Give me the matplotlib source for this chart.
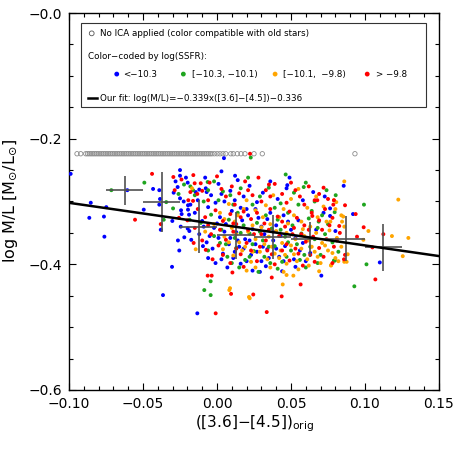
import numpy as np
import matplotlib
matplotlib.use('Agg')
import matplotlib.pyplot as plt
from matplotlib.patches import Rectangle
from matplotlib.ticker import MultipleLocator, FixedLocator, FixedFormatter

# data
gray_x = [-0.0946, -0.0921,
          -0.0887, -0.0875, -0.0863, -0.0851, -0.0839, -0.0827, -0.0815, -0.0803, -0.0791, -0.0779,
          -0.0767, -0.0755, -0.0743, -0.0731, -0.0719, -0.0707, -0.0695, -0.0683, -0.0671, -0.0659,
          -0.0647, -0.0635, -0.0623, -0.0611, -0.0599, -0.0587, -0.0575, -0.0563, -0.0551, -0.0539,
          -0.0527, -0.0515, -0.0503, -0.0491, -0.0479, -0.0467, -0.0455, -0.0443, -0.0431, -0.0419,
          -0.0407, -0.0395, -0.0383, -0.0371, -0.0359, -0.0347, -0.0335, -0.0323, -0.0311, -0.0299,
          -0.0287, -0.0275, -0.0263, -0.0251, -0.0239, -0.0227, -0.0215, -0.0203, -0.0191, -0.0179,
          -0.0167, -0.0155, -0.0143, -0.0131, -0.0119, -0.0107, -0.0095, -0.0083, -0.0071, -0.0059,
          -0.0047, -0.0035, -0.0018, 0.0001, 0.0020, 0.0040, 0.0059,
          0.0093, 0.0110, 0.0137, 0.0162, 0.0189, 0.0250, 0.0306, 0.0932]
gray_y = [-0.224] * len(gray_x)

blue_x = [-0.0989, -0.0853, -0.0748, -0.0863, -0.0764, -0.0761, -0.0304, -0.0365, -0.0133, -0.0606,
          -0.0495, -0.0432, -0.0390, -0.0385, -0.0390, -0.0380, -0.0250, -0.0250, -0.0266, -0.0293,
          -0.0198, -0.0225, -0.0196, -0.0243, -0.0239, -0.0196, -0.0189, -0.0302, -0.0245, -0.0198,
          -0.0187, -0.0221, -0.0264, -0.0255, -0.0174, -0.0095, -0.0144, -0.0076, 0.0047, 0.0122,
          0.0475, 0.0705, 0.1100, 0.0856, 0.0919, 0.0800, 0.0728, 0.0764, 0.0764,
          -0.028, -0.021, -0.012, -0.008, -0.004, 0.001, 0.005, 0.009, 0.014, 0.018, 0.022, 0.027,
          0.031, 0.036, 0.041, 0.047, -0.015, -0.010, -0.006, -0.002, 0.002, 0.006, 0.010, 0.013,
          0.017, 0.020, 0.024, 0.028, 0.032, 0.036, 0.040, 0.045, 0.050, 0.055, -0.012, -0.007,
          -0.003, 0.001, 0.004, 0.008, 0.011, 0.015, 0.019, 0.023, 0.026, 0.030, 0.034, 0.038,
          0.042, 0.046, 0.052, 0.058, 0.063, -0.001, 0.007, 0.016, 0.024, 0.033, 0.044, 0.053,
          0.060, 0.067, 0.072, 0.058, 0.065, 0.049, 0.003,
          -0.025, -0.018, -0.013, -0.007, -0.001, 0.003, 0.012, 0.016, 0.021, 0.026, 0.030, 0.034,
          0.038, 0.043, 0.048, 0.053, -0.009, -0.005, 0.000, 0.005, 0.009, 0.014, 0.018, 0.022,
          0.027, 0.031, 0.035, 0.040, 0.045, 0.056, 0.003, 0.012, -0.006, 0.020, 0.029]
blue_y = [-0.256, -0.302, -0.309, -0.326, -0.324, -0.356, -0.404, -0.449, -0.478, -0.282,
          -0.313, -0.280, -0.282, -0.296, -0.305, -0.345, -0.250, -0.259, -0.277, -0.286,
          -0.270, -0.300, -0.306, -0.314, -0.320, -0.313, -0.321, -0.331, -0.340, -0.343,
          -0.347, -0.357, -0.362, -0.378, -0.361, -0.371, -0.285, -0.279, -0.231, -0.259,
          -0.274, -0.418, -0.397, -0.275, -0.320, -0.347, -0.292, -0.311, -0.323,
          -0.268, -0.262, -0.281, -0.262, -0.290, -0.272, -0.300, -0.283, -0.266, -0.292, -0.275, -0.301,
          -0.286, -0.268, -0.296, -0.279, -0.318, -0.331, -0.309, -0.342, -0.325, -0.336, -0.315, -0.349,
          -0.330, -0.312, -0.344, -0.326, -0.352, -0.318, -0.338, -0.322, -0.345, -0.330, -0.352, -0.365,
          -0.375, -0.358, -0.383, -0.368, -0.390, -0.372, -0.360, -0.385, -0.368, -0.395, -0.376, -0.362,
          -0.388, -0.371, -0.392, -0.366, -0.382, -0.398, -0.405, -0.399, -0.410, -0.403, -0.411, -0.404,
          -0.395, -0.345, -0.318, -0.298, -0.285, -0.262, -0.252,
          -0.295, -0.305, -0.298, -0.285, -0.302, -0.288, -0.298, -0.310, -0.322, -0.312, -0.340, -0.328,
          -0.348, -0.355, -0.332, -0.358, -0.340, -0.355, -0.335, -0.348, -0.358, -0.362, -0.375, -0.362,
          -0.380, -0.372, -0.390, -0.375, -0.395, -0.378, -0.392, -0.380, -0.390, -0.395, -0.412]

green_x = [-0.026, -0.018, -0.009, -0.002, 0.004, 0.011, 0.016, 0.021, 0.029, 0.035, 0.043, 0.052,
           0.060, 0.066, 0.074, -0.011, -0.004, 0.003, 0.008, 0.012, 0.018, 0.022, 0.027, 0.031,
           0.037, 0.041, 0.046, 0.051, 0.057, 0.062, 0.068, 0.075, -0.006, 0.002, 0.007, 0.013,
           0.019, 0.025, 0.032, 0.039, 0.044, 0.050, 0.056, 0.063, 0.070, 0.078, 0.015, 0.028,
           0.041, 0.060, 0.079,
           -0.0714, -0.0491, -0.0343, -0.0360, -0.0223, -0.0297, -0.0185, -0.0162, -0.0063, 0.0228,
           -0.0043, -0.0086, -0.0043, 0.0464, 0.0586, 0.0687, 0.0802, 0.0795, 0.0797, 0.0993,
           0.1010, 0.0928,
           -0.015, -0.006, 0.001, 0.009, 0.014, 0.024, 0.033, 0.039, 0.048, 0.055, 0.064, 0.071,
           -0.002, 0.006, 0.016, 0.024, 0.029, 0.035, 0.043, 0.048, 0.054, 0.059, 0.066, 0.073,
           0.010, 0.022, 0.036, 0.047, 0.068, 0.082]
green_y = [-0.288, -0.276, -0.300, -0.268, -0.284, -0.305, -0.279, -0.262, -0.292, -0.278, -0.303, -0.286,
           -0.270, -0.300, -0.282, -0.334, -0.321, -0.345, -0.329, -0.358, -0.338, -0.351, -0.334, -0.362,
           -0.343, -0.329, -0.356, -0.338, -0.351, -0.327, -0.342, -0.336, -0.378, -0.366, -0.388, -0.374,
           -0.393, -0.379, -0.388, -0.371, -0.396, -0.378, -0.393, -0.372, -0.385, -0.365, -0.405, -0.412,
           -0.407, -0.405, -0.394,
           -0.282, -0.270, -0.301, -0.329, -0.273, -0.311, -0.329, -0.282, -0.269, -0.230,
           -0.427, -0.441, -0.449, -0.257, -0.277, -0.332, -0.290, -0.317, -0.394, -0.305,
           -0.400, -0.435,
           -0.290, -0.282, -0.298, -0.290, -0.318, -0.305, -0.322, -0.310, -0.318, -0.305, -0.315, -0.322,
           -0.355, -0.368, -0.350, -0.368, -0.348, -0.372, -0.345, -0.365, -0.368, -0.385, -0.360, -0.352,
           -0.398, -0.388, -0.398, -0.388, -0.398, -0.380]

orange_x = [0.002, 0.008, 0.014, 0.020, 0.026, 0.033, 0.038, 0.045, 0.050, 0.055, 0.061, 0.067,
            0.072, 0.079, 0.084, -0.008, -0.002, 0.005, 0.010, 0.015, 0.021, 0.026, 0.030, 0.035,
            0.040, 0.044, 0.048, 0.053, 0.058, 0.062, 0.067, 0.071, 0.076, 0.081, 0.086, 0.004,
            0.011, 0.017, 0.023, 0.029, 0.034, 0.039, 0.043, 0.047, 0.052, 0.057, 0.061, 0.066,
            0.070, 0.075, 0.080, 0.084, 0.020, 0.036, 0.055, 0.069, 0.077,
            -0.0169, -0.0144, 0.0088, 0.0083, 0.0216, 0.0221, 0.0444, 0.0470, 0.0516, 0.0860,
            0.1225, 0.1023, 0.1182, 0.1293, 0.1255, 0.0989, 0.0853, 0.0845, 0.0876, 0.0860,
            0.0883, 0.0772, 0.0806, 0.0766,
            0.005, 0.012, 0.018, 0.024, 0.031, 0.036, 0.042, 0.047, 0.052, 0.057, 0.063, 0.068,
            0.074, 0.080, 0.008, 0.013, 0.019, 0.024, 0.032, 0.037, 0.042, 0.046, 0.050, 0.054,
            0.059, 0.064, 0.068, 0.073, 0.078, 0.082, 0.026, 0.045, 0.062]
orange_y = [-0.318, -0.304, -0.322, -0.298, -0.314, -0.306, -0.290, -0.312, -0.296, -0.280, -0.310, -0.292,
            -0.308, -0.298, -0.322, -0.348, -0.336, -0.356, -0.342, -0.365, -0.348, -0.360, -0.341, -0.356,
            -0.347, -0.366, -0.335, -0.360, -0.344, -0.362, -0.350, -0.366, -0.346, -0.358, -0.340, -0.376,
            -0.386, -0.378, -0.396, -0.380, -0.392, -0.383, -0.378, -0.399, -0.384, -0.375, -0.392, -0.380,
            -0.398, -0.378, -0.390, -0.372, -0.410, -0.405, -0.408, -0.411, -0.402,
            -0.279, -0.376, -0.438, -0.441, -0.452, -0.454, -0.432, -0.417, -0.418, -0.268,
            -0.297, -0.347, -0.355, -0.358, -0.387, -0.361, -0.324, -0.332, -0.396, -0.396,
            -0.384, -0.401, -0.301, -0.332,
            -0.328, -0.332, -0.312, -0.338, -0.325, -0.336, -0.325, -0.350, -0.322, -0.332, -0.340, -0.325,
            -0.332, -0.312, -0.365, -0.352, -0.372, -0.380, -0.368, -0.372, -0.390, -0.385, -0.370, -0.395,
            -0.355, -0.372, -0.388, -0.370, -0.382, -0.395, -0.405, -0.412, -0.402]

red_x = [-0.024, -0.016, -0.010, -0.005, 0.000, 0.006, 0.010, 0.015, 0.019, 0.024, 0.028, 0.033,
         0.039, 0.044, 0.050, 0.056, 0.062, 0.069, 0.075, -0.020, -0.013, -0.008, -0.001, 0.004,
         0.009, 0.013, 0.018, 0.023, 0.027, 0.032, 0.036, 0.041, 0.046, 0.049, 0.054, 0.059,
         0.064, 0.069, 0.073, 0.078, -0.010, -0.004, 0.001, 0.006, 0.011, 0.016, 0.020, 0.025,
         0.029, 0.033, 0.037, 0.042, 0.047, 0.051, 0.055, 0.060, 0.065, 0.069, 0.074, 0.079,
         0.083, -0.003, 0.009, 0.018, 0.027, 0.039, 0.049, 0.058, 0.066,
         -0.0439, -0.0554, -0.0380, -0.0295, -0.0286, -0.0194, -0.0257, -0.0158, -0.0076, -0.0151,
         -0.0110, -0.0133, -0.0162, 0.0223, -0.0063, -0.0036, -0.0009, 0.0095, 0.0104, 0.0245,
         0.0336, 0.0437, 0.0370, 0.0565, 0.0351, 0.0678, 0.0991, 0.1124, 0.1070, 0.1050,
         0.0946, 0.0937, 0.0865, 0.0826, 0.0858, 0.0865, 0.0790, 0.0786, 0.0644,
         -0.018, -0.006, 0.003, 0.012, 0.021, 0.030, 0.036, 0.047, 0.053, 0.059, 0.066, 0.072,
         -0.015, -0.006, 0.002, 0.011, 0.016, 0.021, 0.030, 0.035, 0.044, 0.052, 0.057, 0.062,
         0.071, 0.076, 0.081, 0.004, 0.013, 0.023, 0.034, 0.044, 0.053, 0.063, 0.072, 0.078]
red_y = [-0.265, -0.258, -0.283, -0.270, -0.260, -0.292, -0.276, -0.287, -0.268, -0.290, -0.262, -0.282,
         -0.272, -0.288, -0.270, -0.292, -0.276, -0.288, -0.296, -0.330, -0.312, -0.325, -0.314, -0.331,
         -0.320, -0.336, -0.316, -0.328, -0.318, -0.335, -0.312, -0.324, -0.340, -0.316, -0.326, -0.338,
         -0.318, -0.330, -0.312, -0.326, -0.362, -0.352, -0.370, -0.361, -0.348, -0.384, -0.366, -0.352,
         -0.372, -0.362, -0.384, -0.355, -0.368, -0.352, -0.383, -0.364, -0.356, -0.374, -0.360, -0.372,
         -0.350, -0.392, -0.398, -0.404, -0.395, -0.400, -0.394, -0.402, -0.396,
         -0.256, -0.329, -0.336, -0.261, -0.282, -0.298, -0.326, -0.366, -0.377, -0.271,
         -0.271, -0.288, -0.299, -0.224, -0.418, -0.418, -0.478, -0.447, -0.413, -0.448,
         -0.476, -0.451, -0.421, -0.432, -0.273, -0.298, -0.341, -0.352, -0.424, -0.373,
         -0.356, -0.320, -0.306, -0.339, -0.392, -0.385, -0.298, -0.305, -0.323,
         -0.285, -0.298, -0.280, -0.305, -0.282, -0.300, -0.292, -0.302, -0.282, -0.305, -0.298, -0.278,
         -0.342, -0.338, -0.345, -0.335, -0.325, -0.345, -0.352, -0.345, -0.332, -0.342, -0.352, -0.345,
         -0.345, -0.338, -0.362, -0.385, -0.375, -0.378, -0.378, -0.378, -0.375, -0.385, -0.388, -0.398]

# binned medians with error bars
bin_x = [-0.0625, -0.0375, -0.0125, 0.0125, 0.0375, 0.0625, 0.0875, 0.1125]
bin_y = [-0.282, -0.301, -0.340, -0.354, -0.356, -0.360, -0.359, -0.373]
bin_xerr = [0.0125] * 8
bin_yerr = [0.023, 0.048, 0.042, 0.037, 0.035, 0.028, 0.036, 0.037]

fit_slope = -0.339
fit_intercept = -0.336
x_range = [-0.10, 0.15]

fig = plt.figure(figsize=(4.58, 4.58), dpi=100)
ax = fig.add_axes([0.1507, 0.1485, 0.8078, 0.8231])

ax.scatter(gray_x, gray_y, s=10, facecolors='none', edgecolors='#8c8c8c', linewidths=0.6, zorder=2)
ms = 8
ax.scatter(blue_x, blue_y, s=ms, c='#0000ff', edgecolors='none', zorder=3)
ax.scatter(green_x, green_y, s=ms, c='#1fa51f', edgecolors='none', zorder=3)
ax.scatter(orange_x, orange_y, s=ms, c='#ffa500', edgecolors='none', zorder=3)
ax.scatter(red_x, red_y, s=ms, c='#ff0000', edgecolors='none', zorder=3)

ax.errorbar(bin_x, bin_y, xerr=bin_xerr, yerr=bin_yerr, fmt='none', ecolor='#505050',
            elinewidth=1.2, capsize=0, zorder=4)

fit_y = [fit_slope * v + fit_intercept for v in x_range]
ax.plot(x_range, fit_y, color='black', lw=1.8, zorder=5)

ax.set_xlim(-0.10, 0.15)
ax.set_ylim(-0.6, 0.0)
ax.xaxis.set_major_locator(FixedLocator([-0.10, -0.05, 0.0, 0.05, 0.10, 0.15]))
ax.xaxis.set_major_formatter(FixedFormatter(['\u22120.10', '\u22120.05', '0.00', '0.05', '0.10', '0.15']))
ax.xaxis.set_minor_locator(MultipleLocator(0.01))
ax.yaxis.set_major_locator(FixedLocator([-0.6, -0.4, -0.2, 0.0]))
ax.yaxis.set_major_formatter(FixedFormatter(['\u22120.6', '\u22120.4', '\u22120.2', '\u22120.0']))
ax.yaxis.set_minor_locator(MultipleLocator(0.05))
ax.tick_params(which='both', direction='in', top=True, right=True, labelsize=10, pad=5)
ax.tick_params(which='major', length=5, width=0.8)
ax.tick_params(which='minor', length=3, width=0.8)
for s in ax.spines.values():
    s.set_linewidth(1.0)

ax.set_xlabel(r'([3.6]$-$[4.5])$_{\rm orig}$', fontsize=11, labelpad=2)
ax.set_ylabel(r'log M/L [M$_{\odot}$/L$_{\odot}$]', fontsize=11.5, labelpad=6)

# legend box, drawn by hand
tr = ax.transAxes
ax.add_patch(Rectangle((0.0316, 0.750), 0.932, 0.224, transform=tr, fill=True,
                       facecolor='white', edgecolor='#333333', lw=0.8, zorder=6))
fs = 6.3
ax.scatter([0.0613], [0.946], s=12, facecolors='none', edgecolors='#555555', linewidths=0.6,
           transform=tr, zorder=7)
ax.text(0.0838, 0.946, 'No ICA applied (color compatible with old stars)', transform=tr,
        fontsize=fs, va='center', zorder=7)
ax.text(0.052, 0.884, 'Color\u2212coded by log(SSFR):', transform=tr, fontsize=fs,
        va='center', zorder=7)
leg_cols = ['#0000ff', '#1fa51f', '#ffa500', '#ff0000']
leg_mx = [0.129, 0.309, 0.557, 0.806]
leg_tx = [0.147, 0.332, 0.579, 0.830]
leg_lab = ['<\u221210.3', '[\u221210.3, \u221210.1)', '[\u221210.1,  \u22129.8)', '> \u22129.8']
for c, mx, tx, lab in zip(leg_cols, leg_mx, leg_tx, leg_lab):
    ax.scatter([mx], [0.838], s=12, c=c, edgecolors='none', transform=tr, zorder=7)
    ax.text(tx, 0.838, lab, transform=tr, fontsize=fs, va='center', zorder=7)
ax.plot([0.052, 0.075], [0.774, 0.774], color='black', lw=1.8, transform=tr, zorder=7)
ax.text(0.084, 0.774, 'Our fit: log(M/L)=\u22120.339x([3.6]\u2212[4.5])\u22120.336', transform=tr,
        fontsize=fs, va='center', zorder=7)

fig.savefig('out.png', dpi=100)
